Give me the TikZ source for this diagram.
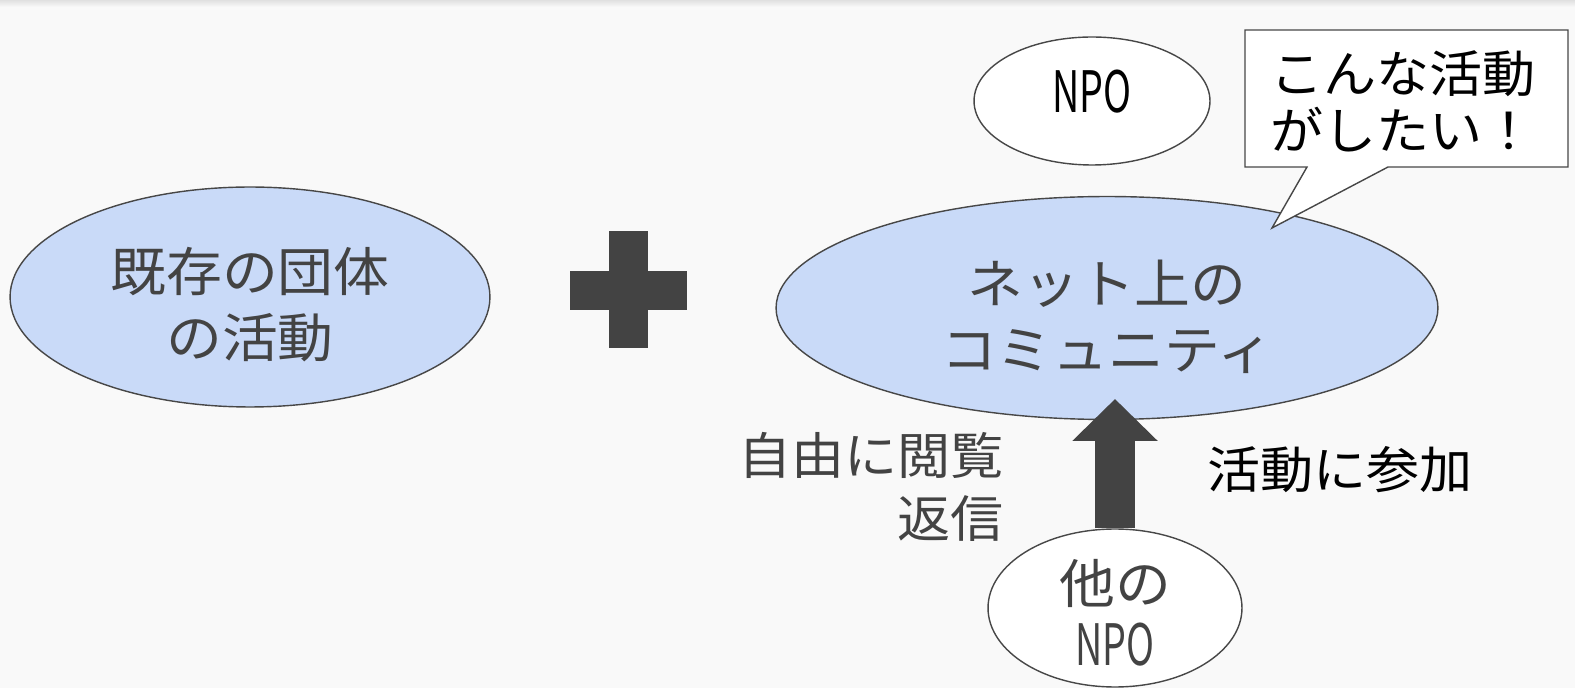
\documentclass[tikz,border=0pt]{standalone}
\usepackage{fontspec}
\setmainfont{Noto Sans CJK JP}[FakeStretch=1.06]
\newfontfamily\narrowfont{Noto Sans CJK JP}[FakeStretch=0.66]
\usetikzlibrary{positioning, shapes.geometric, arrows.meta}

\definecolor{bgc}{HTML}{F9F9F9}
\definecolor{blobfill}{HTML}{C9DAF8}
\definecolor{ink}{HTML}{434343}
\definecolor{edge}{HTML}{474747}

\begin{document}
\begin{tikzpicture}[x=0.02cm, y=-0.02cm,
  blob/.style={ellipse, draw=edge, line width=0.8pt, fill=blobfill, inner sep=0pt},
  white blob/.style={blob, fill=white},
  blob text/.style={inner sep=0pt, text=ink, align=center, font=\fontsize{30}{37.5}\selectfont},
  label text/.style={inner sep=0pt, font=\fontsize{28.5}{36}\selectfont}]

\useasboundingbox (0,0) rectangle (1575,688);
\fill[bgc] (0,0) rectangle (1575,688);
\fill[top color=black!12, bottom color=bgc] (0,0) rectangle (1575,7);

% left blob and plus
\node[blob, minimum width=9.6cm, minimum height=4.4cm] (group) at (250,297) {};
\node[blob text] (group text) at ([yshift=-0.16cm]group.center) {既存の団体\\の活動};
\fill[ink] (609,231) rectangle (648,348);
\fill[ink] (570,271) rectangle (687,310);

% net community
\node[blob, minimum width=13.24cm, minimum height=4.46cm] (net) at (1107,308) {};
\node[blob text] (net text) at ([yshift=-0.17cm]net.center) {ネット上の\\コミュニティ};
\node[white blob, minimum width=4.72cm, minimum height=2.56cm] (npo) at (1092,101) {};
\node[blob text, text=black, font=\narrowfont\fontsize{32.5}{35}\selectfont] (npo text) at ([yshift=0.18cm]npo.center) {NPO};

% speech bubble
\coordinate (box nw) at (1245,30);
\coordinate (box se) at (1568,167);
\coordinate (tip) at (1272,228);
\filldraw[fill=white, draw=edge, line width=0.8pt]
  (box nw) -- (box nw -| box se) -- (box se) -- (1388,167) -- (tip) -- (1307,167)
  -- (box se -| box nw) -- cycle;
\node[label text, anchor=west, align=left, font=\fontsize{28.5}{32.5}\selectfont] (wish) at (1270,101) {こんな活動\\がしたい！};

% other NPO joins
\coordinate (head) at (1115,399);
\node[white blob, minimum width=5.08cm, minimum height=3.16cm] (other) at (1115,608) {};
\draw[ink, line width=0.8cm, -{Triangle[length=0.84cm, width=1.66cm]}] (other.north) -- (head);
\node[blob text, font=\fontsize{30}{35.3}\selectfont] (other text) at ([yshift=-0.09cm]other.center) {他の\\{\narrowfont\fontsize{32.5}{35.3}\selectfont NPO}};

\node[label text, text=ink, anchor=east, align=right] (browse) at (1004,487) {自由に閲覧\\返信};
\node[label text] (join) at (1340,470) {活動に参加};
\end{tikzpicture}
\end{document}
